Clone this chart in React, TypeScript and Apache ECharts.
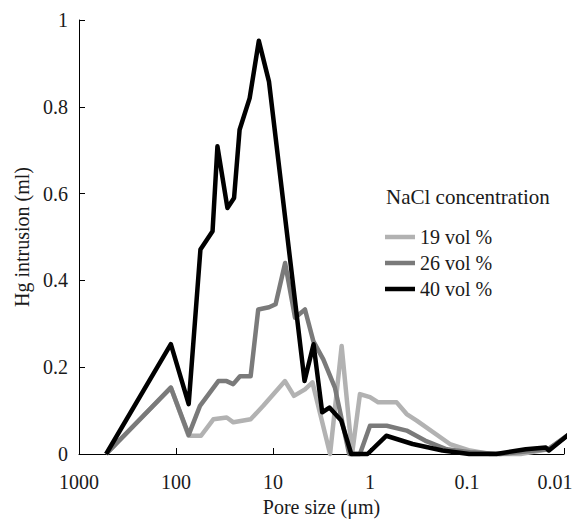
import React, { useEffect, useRef } from "react";
import * as echarts from "echarts";

const seriesNames = ["19 vol %", "26 vol %", "40 vol %"];
const seriesColors = ["#b2b2b2", "#7a7a7a", "#000000"];

// [pore size (μm), Hg intrusion (ml)]
const vol19: [number, number][] = [
  [525, 0], [113, 0.153], [74.3, 0.042], [55.2, 0.042], [41.2, 0.08], [30.0, 0.084],
  [25.6, 0.073], [17.0, 0.08], [12.6, 0.111], [7.52, 0.168], [6.08, 0.134], [4.68, 0.149],
  [3.92, 0.165], [2.58, 0], [1.96, 0.249], [1.53, 0], [1.27, 0.138], [1.0, 0.131],
  [0.822, 0.119], [0.531, 0.119], [0.419, 0.092], [0.33, 0.077], [0.15, 0.023],
  [0.093, 0.008], [0.058, 0], [0.028, 0], [0.0146, 0.011], [0.0088, 0.046],
];
const vol26: [number, number][] = [
  [525, 0], [113, 0.153], [74, 0.044], [56.6, 0.111], [44.6, 0.142], [36.6, 0.168],
  [30.1, 0.168], [25.7, 0.161], [21.9, 0.179], [17.0, 0.179], [14.2, 0.333], [11.0, 0.338],
  [9.4, 0.345], [7.5, 0.44], [5.93, 0.314], [4.68, 0.333], [3.84, 0.26], [3.03, 0.218],
  [2.3, 0.153], [1.64, 0], [1.27, 0], [1.0, 0.065], [0.673, 0.065], [0.419, 0.054],
  [0.271, 0.031], [0.162, 0.011], [0.093, 0.004], [0.0457, 0], [0.0224, 0.007],
  [0.0146, 0.011], [0.0088, 0.046],
];
const vol40: [number, number][] = [
  [525, 0], [113, 0.253], [74, 0.115], [56, 0.471], [42, 0.513], [37.4, 0.709],
  [29.5, 0.567], [25.2, 0.59], [22.1, 0.747], [17.4, 0.82], [14.0, 0.952], [11.0, 0.858],
  [4.73, 0.168], [3.82, 0.253], [3.11, 0.096], [2.62, 0.107], [1.98, 0.077], [1.56, 0],
  [1.06, 0], [0.68, 0.042], [0.364, 0.023], [0.179, 0.008], [0.095, 0], [0.05, 0],
  [0.0248, 0.011], [0.0154, 0.015], [0.0143, 0.008], [0.0088, 0.046],
];
const seriesData = [vol19, vol26, vol40];

const xTickLabels = ["1000", "100", "10", "1", "0.1", "0.01"];
const xTitle = "Pore size (μm)";
const yTitle = "Hg intrusion (ml)";
const legendTitle = "NaCl concentration";

const FONT = "Liberation Serif";
const TXT = "#1a1a1a";

export default function App() {
  const ref = useRef<HTMLDivElement>(null);
  useEffect(() => {
    if (!ref.current) return;
    const chart = echarts.init(ref.current, undefined, { renderer: "svg" });
    chart.setOption({
      animation: false,
      backgroundColor: "#ffffff",
      textStyle: { fontFamily: FONT },
      grid: { left: 79, right: 12, top: 20, bottom: 67, containLabel: false },
      legend: {
        data: seriesNames,
        orient: "vertical",
        left: 385,
        top: 227,
        padding: 0,
        itemWidth: 30,
        itemHeight: 4.5,
        itemGap: 6,
        icon: "rect",
        textStyle: { fontFamily: FONT, fontSize: 20, color: TXT },
      },
      graphic: [
        {
          type: "text",
          left: 386,
          top: 186,
          style: { text: legendTitle, fontFamily: FONT, fontSize: 21, fill: TXT },
        },
      ],
      xAxis: {
        type: "log",
        logBase: 10,
        min: 0.01,
        max: 1000,
        inverse: true,
        name: xTitle,
        nameLocation: "middle",
        nameGap: 43,
        nameTextStyle: { fontFamily: FONT, fontSize: 20, color: TXT },
        axisLine: { lineStyle: { color: "#000", width: 1 } },
        axisTick: { inside: true, length: 6, lineStyle: { color: "#000" } },
        minorTick: { show: false },
        splitLine: { show: false },
        axisLabel: {
          fontFamily: FONT,
          fontSize: 20,
          color: TXT,
          margin: 18,
          formatter: (v: number) => {
            const e = Math.round(Math.log10(v));
            const label = xTickLabels[3 - e];
            return e === -2 ? `{r|${label}}` : label;
          },
          rich: {
            r: { fontFamily: FONT, fontSize: 20, color: TXT, padding: [0, 18, 0, 0] },
          },
        },
      },
      yAxis: {
        type: "value",
        min: 0,
        max: 1,
        interval: 0.2,
        name: yTitle,
        nameLocation: "middle",
        nameGap: 47,
        nameTextStyle: { fontFamily: FONT, fontSize: 20, color: TXT },
        axisLine: { show: true, lineStyle: { color: "#000", width: 1 } },
        axisTick: { show: true, inside: true, length: 6, lineStyle: { color: "#000" } },
        splitLine: { show: false },
        axisLabel: { fontFamily: FONT, fontSize: 20, color: TXT, margin: 11 },
      },
      series: seriesNames.map((name, i) => ({
        name,
        type: "line",
        data: seriesData[i],
        symbol: "none",
        clip: false,
        color: seriesColors[i],
        lineStyle: { color: seriesColors[i], width: 4.5, join: "round" },
        itemStyle: { color: seriesColors[i] },
      })),
    });
    return () => chart.dispose();
  }, []);
  return (
    <div
      ref={ref}
      style={{ position: "absolute", left: 0, top: 0, width: 576, height: 522 }}
    />
  );
}
